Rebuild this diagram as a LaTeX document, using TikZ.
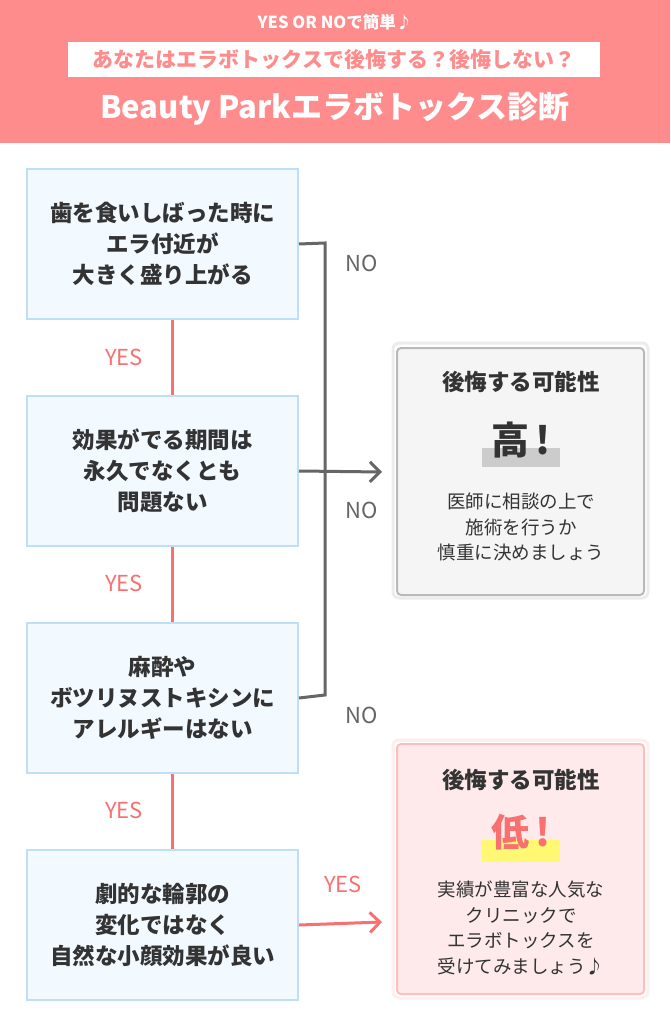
\documentclass[tikz,border=0pt]{standalone}
\usepackage{fontspec}
\usetikzlibrary{arrows.meta}
\setmainfont{Noto Sans CJK JP}
\definecolor{hdr}{HTML}{FF8C8C}
\definecolor{qfill}{HTML}{F2F9FF}
\definecolor{qdraw}{HTML}{BEDFF5}
\definecolor{red1}{HTML}{F87070}
\definecolor{txt}{HTML}{333333}
\definecolor{gline}{HTML}{666666}
\begin{document}
\begin{tikzpicture}[x=1pt,y=-1pt,
 q/.style={draw=qdraw,line width=2pt,fill=qfill,minimum width=271pt,minimum height=150pt,anchor=north west,align=center,font=\fontsize{22.5}{31}\selectfont\bfseries,text=txt},
 yes/.style={text=red1,font=\fontsize{22}{24}\selectfont},
 no/.style={text=gline,font=\fontsize{22}{24}\selectfont},
 res/.style={rounded corners=4pt,line width=2pt,minimum width=247pt,anchor=north west},
 body/.style={align=center,font=\fontsize{18.5}{25.5}\selectfont,text=txt},
 ttl/.style={font=\fontsize{22.5}{24}\selectfont\bfseries,text=txt},
 arr/.style={line width=3pt,-{Straight Barb[length=10pt,width=20pt]}}]
\useasboundingbox (0,0) rectangle (670,1024);
\fill[white] (0,0) rectangle (670,1024);
\fill[hdr] (0,0) rectangle (670,143);
\node[text=white,font=\fontsize{16.5}{18}\selectfont\bfseries] (h1) at (335,22) {YES OR NOで簡単♪};
\node[fill=white,minimum width=532pt,minimum height=35pt,text=hdr,font=\fontsize{21}{22}\selectfont\bfseries] (h2) at (334,60) {あなたはエラボトックスで後悔する？後悔しない？};
\node[text=white,font=\fontsize{31}{34}\selectfont\bfseries] (h3) at (335,109) {Beauty Parkエラボトックス診断};
\node[q] (q1) at (26,168) {歯を食いしばった時に\\エラ付近が\\大きく盛り上がる};
\node[q] (q2) at (26,395) {効果がでる期間は\\永久でなくとも\\問題ない};
\node[q] (q3) at (26,622) {麻酔や\\ボツリヌストキシンに\\アレルギーはない};
\node[q] (q4) at (26,849) {劇的な輪郭の\\変化ではなく\\自然な小顔効果が良い};
\draw[red1,line width=3pt] (q1.south -| 172,0) -- (q2.north -| 172,0);
\draw[red1,line width=3pt] (q2.south -| 172,0) -- (q3.north -| 172,0);
\draw[red1,line width=3pt] (q3.south -| 172,0) -- (q4.north -| 172,0);
\node[yes] (y1) at (124,357) {YES};
\node[yes] (y2) at (124,583) {YES};
\node[yes] (y3) at (124,810) {YES};
\coordinate (b1) at (325,243);
\coordinate (b3) at (325,695);
\coordinate (a1) at (382,472);
\coordinate (a2) at (382,922);
\draw[gline,line width=3pt] (q1.east) -- (b1) -- (b3) -- (q3.east);
\draw[gline,arr] (q2.east) -- (a1);
\draw[red1,arr] (q4.east) -- (a2);
\node[no] (n1) at (362,263) {NO};
\node[no] (n2) at (362,510) {NO};
\node[no] (n3) at (362,715) {NO};
\node[yes] (y4) at (343,884) {YES};
\draw[rounded corners=6pt,line width=3pt,draw=gray!15] (393,343) rectangle (648,598);
\node[res,draw=gray!55,fill=gray!8,minimum height=247pt] (r1) at (396,347) {};
\node[ttl] (t1) at (521,382) {後悔する可能性};
\fill[gray!40] (482,448) rectangle (560,467);
\node[text=txt,font=\fontsize{38}{40}\selectfont\bfseries] (k1) at (521,440) {高\,\textit{!}};
\node[body] (d1) at (521,527) {医師に相談の上で\\施術を行うか\\慎重に決めましょう};
\draw[rounded corners=6pt,line width=3pt,draw=red1!12] (393,740) rectangle (648,998);
\node[res,draw=red1!45,fill=red1!15,minimum height=250pt] (r2) at (396,743) {};
\node[ttl] (t2) at (521,780) {後悔する可能性};
\fill[yellow!55] (482,840) rectangle (560,862);
\node[text=red1,font=\fontsize{38}{40}\selectfont\bfseries] (k2) at (521,832) {低\,\textit{!}};
\node[body] (d2) at (521,928) {実績が豊富な人気な\\クリニックで\\エラボトックスを\\受けてみましょう♪};
\end{tikzpicture}
\end{document}
